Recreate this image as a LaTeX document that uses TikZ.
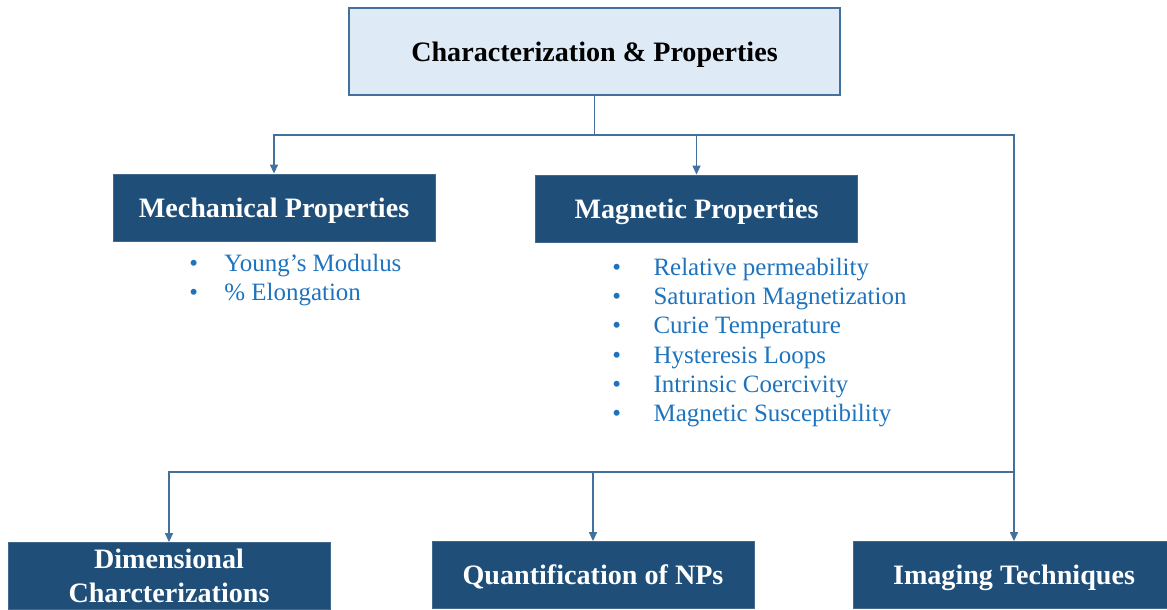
\documentclass[tikz,border=0pt]{standalone}
\usepackage{fontspec}
\setmainfont{Liberation Serif}
\usetikzlibrary{arrows.meta}

\definecolor{rootfill}{HTML}{DEEBF7}
\definecolor{rootline}{HTML}{41719C}
\definecolor{boxfill}{HTML}{1F4E79}
\definecolor{linkline}{HTML}{41719C}
\definecolor{itemblue}{HTML}{1E73BE}

\begin{document}
\begin{tikzpicture}[
    x=0.02cm,
    y=-0.02cm,
    root/.style={
        rectangle,
        draw=rootline,
        fill=rootfill,
        line width=0.8pt,
        minimum width=9.82cm,
        minimum height=1.74cm,
        text height=14.5pt,
        text depth=3.5pt,
        font=\fontsize{16}{19}\selectfont\bfseries
    },
    topic/.style={
        rectangle,
        draw=boxfill!85!white,
        fill=boxfill,
        line width=0.5pt,
        minimum width=6.44cm,
        minimum height=1.34cm,
        text height=14.5pt,
        text depth=3.5pt,
        text=white,
        align=center,
        font=\fontsize{16}{19.3}\selectfont\bfseries
    },
    link/.style={
        draw=linkline,
        line width=0.8pt
    },
    arrow/.style={
        link,
        -{Triangle[length=1.8mm,width=1.6mm]}
    },
    items/.style={
        anchor=base west,
        inner sep=0pt,
        text=itemblue,
        font=\fontsize{14.2}{16.7}\selectfont
    }
]

\useasboundingbox (0,0) rectangle (1167,609);
\clip (0,0) rectangle (1167,609);

% Boxes
\node [root] (root) at (594.5,51.5) {Characterization \& Properties};
\node [topic] (mech) at (274,207.5) {Mechanical Properties};
\node [topic] (magn) at (696.5,208.5) {Magnetic Properties};
\node [topic, text height=, text depth=] (dimen) at (169,576) {Dimensional\\Charcterizations};
\node [topic] (quant) at (593,575) {Quantification of NPs};
\node [topic] (imaging) at (1014,575) {Imaging Techniques};

% Junctions
\coordinate (upper) at (594.5,135);
\coordinate (lower) at (1014,472);

% Connectors
\draw [link] (root.south) -- (upper);
\draw [arrow] (upper) -| (mech.north);
\draw [arrow] (upper) -| (magn.north);
\draw [arrow] (upper) -| (imaging.north);
\draw [arrow] (lower) -| (dimen.north);
\draw [arrow] (lower) -| (quant.north);

% Property lists
\node [items] (mechlist) at (189,271) {%
    \def\arraystretch{1.0}%
    \begin{tabular}[t]{@{}l@{\hspace{15pt}}l@{}}
    \textbullet & Young’s Modulus\\
    \textbullet & \% Elongation
    \end{tabular}};

\node [items] (magnlist) at (612,275) {%
    \def\arraystretch{1.0}%
    \begin{tabular}[t]{@{}l@{\hspace{18.5pt}}l@{}}
    \textbullet & Relative permeability\\
    \textbullet & Saturation Magnetization\\
    \textbullet & Curie Temperature\\
    \textbullet & Hysteresis Loops\\
    \textbullet & Intrinsic Coercivity\\
    \textbullet & Magnetic Susceptibility
    \end{tabular}};

\end{tikzpicture}
\end{document}
